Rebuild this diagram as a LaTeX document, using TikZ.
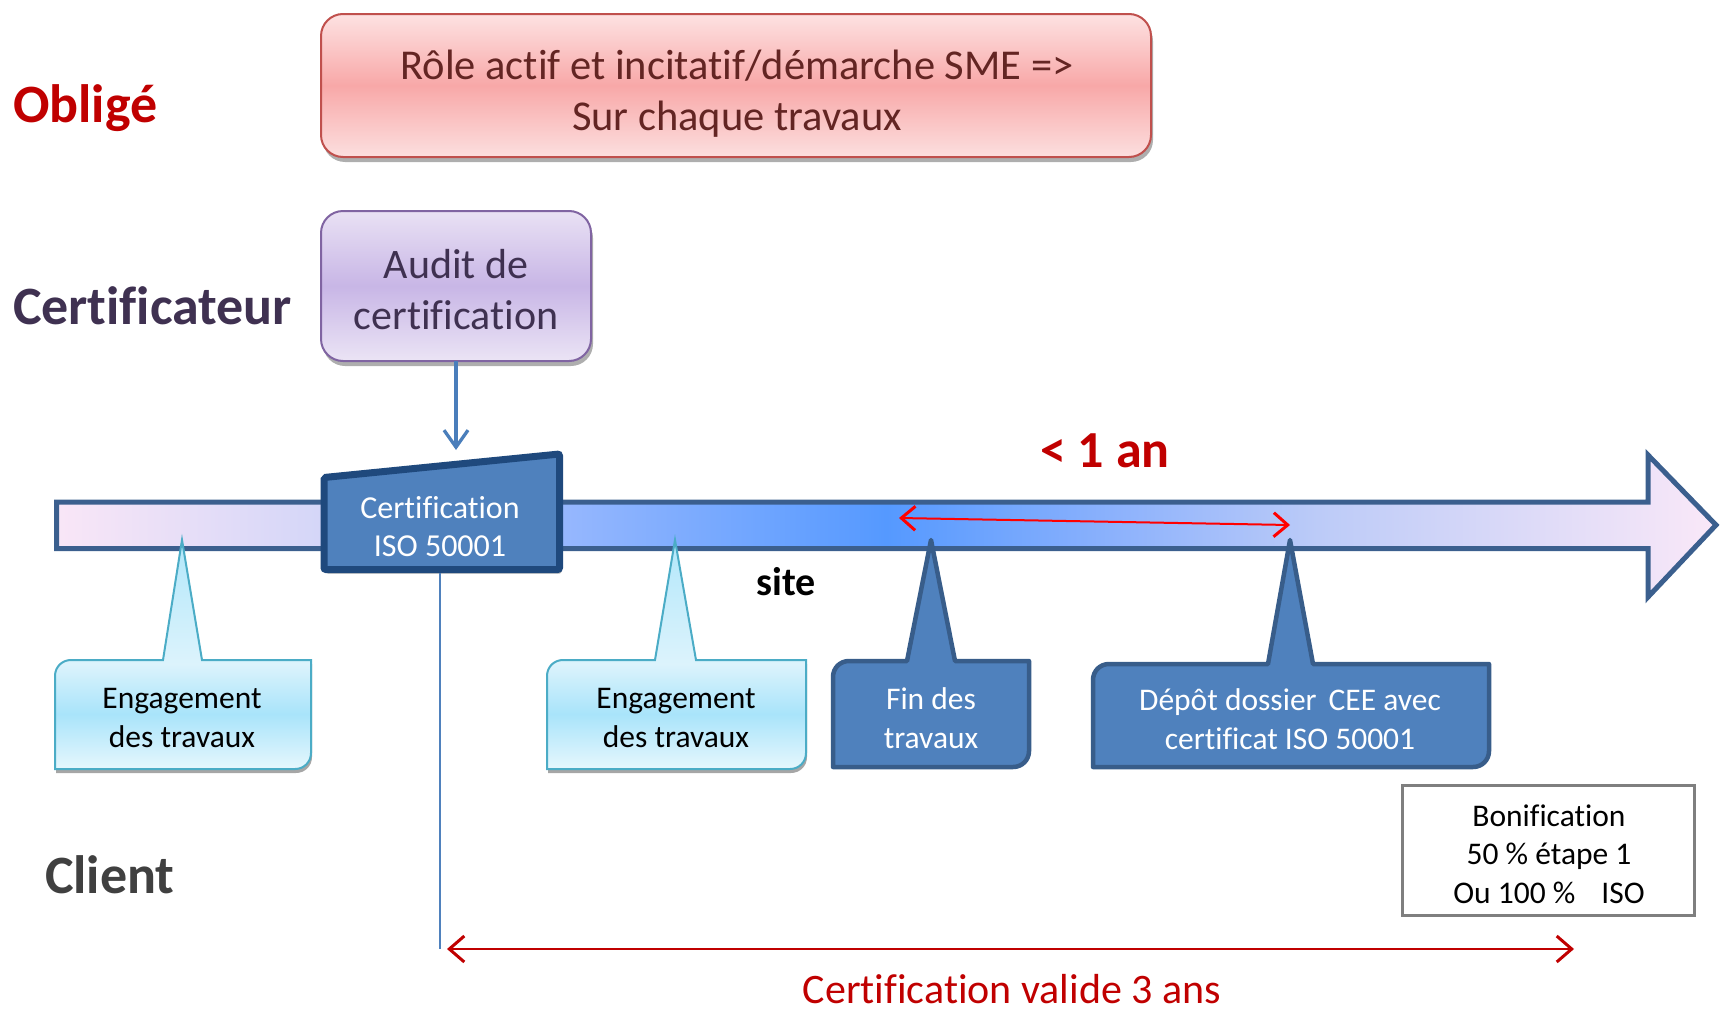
\documentclass[tikz,border=0pt]{standalone}
\usepackage{fontspec}
\setmainfont{Carlito}[Ligatures=NoCommon]
\usetikzlibrary{arrows.meta,shadows}

% ---------- colours ----------
\definecolor{obligred}{HTML}{C00000}
\definecolor{certpurple}{HTML}{3F3151}
\definecolor{clientgray}{HTML}{404040}
\definecolor{roleborder}{HTML}{C0504D}
\definecolor{roletext}{HTML}{632523}
\definecolor{auditborder}{HTML}{8064A2}
\definecolor{linkblue}{HTML}{4A7EBB}
\definecolor{axisborder}{HTML}{3B5F8E}
\definecolor{stepfill}{HTML}{4F81BD}
\definecolor{isoborder}{HTML}{1F497D}
\definecolor{stepborder}{HTML}{385D8A}
\definecolor{engborder}{HTML}{4BACC6}
\definecolor{bonusborder}{HTML}{7F7F7F}
\definecolor{brightred}{HTML}{FF0000}

% gradient stops
\definecolor{rb}{HTML}{FCDFDF}\definecolor{rm}{HTML}{F8A8A8}\definecolor{rt}{HTML}{FDE2E2}
\definecolor{ab}{HTML}{EBE4F5}\definecolor{am}{HTML}{C8B6E6}\definecolor{at}{HTML}{E9E1F4}
\definecolor{ec0}{HTML}{E6F7FD}\definecolor{ec1}{HTML}{A9E4FA}\definecolor{ec2}{HTML}{DCF3FC}\definecolor{ec3}{HTML}{B2E7FA}
\definecolor{ax0}{HTML}{F9E6F7}\definecolor{ax1}{HTML}{D4D6F8}\definecolor{ax2}{HTML}{98B8FE}
\definecolor{ax3}{HTML}{5599FF}\definecolor{ax4}{HTML}{8DB2FC}\definecolor{ax5}{HTML}{BCCBF8}\definecolor{ax6}{HTML}{FAE8F8}

\pgfdeclareverticalshading{roleshade}{100bp}{color(0bp)=(rb); color(25bp)=(rb); color(50bp)=(rm); color(75bp)=(rt); color(100bp)=(rt)}
\pgfdeclareverticalshading{auditshade}{100bp}{color(0bp)=(ab); color(25bp)=(ab); color(50bp)=(am); color(75bp)=(at); color(100bp)=(at)}
\pgfdeclareverticalshading{engshade}{100bp}{color(0bp)=(ec0); color(25bp)=(ec0); color(37bp)=(ec1); color(48bp)=(ec2); color(75bp)=(ec3); color(100bp)=(ec3)}
\pgfdeclarehorizontalshading{axisshade}{100bp}{color(0bp)=(ax0); color(25bp)=(ax0); color(33bp)=(ax1); color(40bp)=(ax2); color(50bp)=(ax3); color(57bp)=(ax4); color(63bp)=(ax5); color(75bp)=(ax6); color(100bp)=(ax6)}

% callout: style, x1, y1, x2, y2, pointer base left, pointer base right, tip x, tip y
\newcommand\timelinecallout[9]{%
  \path[#1] (#2,#3+16) .. controls (#2,#3+7) and (#2+7,#3) .. (#2+16,#3)
    -- (#6,#3) -- (#8,#9) -- (#7,#3) -- (#4,#3) -- (#4,#5-16)
    .. controls (#4,#5-7) and (#4-7,#5) .. (#4-16,#5) -- (#2,#5) -- cycle;}

\begin{document}
\begin{tikzpicture}[x=1pt,y=-1pt,
  every node/.style={inner sep=0pt, outer sep=0pt},
  actor/.style={anchor=west, font=\fontsize{54}{62}\selectfont\bfseries},
  rolebox/.style={draw=roleborder, line width=2pt, rounded corners=22pt, shade, shading=roleshade,
    minimum width=830pt, minimum height=143pt,
    drop shadow={shadow xshift=2pt, shadow yshift=-5pt, fill=black!45, opacity=.7}},
  auditbox/.style={draw=auditborder, line width=2pt, rounded corners=22pt, shade, shading=auditshade,
    minimum width=270pt, minimum height=150pt,
    drop shadow={shadow xshift=2pt, shadow yshift=-5pt, fill=black!45, opacity=.7}},
  lightcallout/.style={draw=engborder, line width=2pt, shade, shading=engshade,
    drop shadow={shadow xshift=1pt, shadow yshift=-4pt, fill=black!50, opacity=.7}},
  darkcallout/.style={draw=stepborder, line width=4.5pt, fill=stepfill, line join=round},
  calloutlabel/.style={align=center, font=\fontsize{31.5}{38.5}\selectfont},
  redspan/.style={draw=obligred, line width=2.5pt,
    {Straight Barb[length=15pt, width=26pt, line width=3pt]}-{Straight Barb[length=15pt, width=26pt, line width=3pt]}},
  yearspan/.style={draw=brightred, line width=2pt,
    {Straight Barb[length=14pt, width=24pt, line width=3pt]}-{Straight Barb[length=14pt, width=24pt, line width=3pt]}},
]
\useasboundingbox (0,0) rectangle (1729,1017);

% ---------- actors ----------
\node[actor, text=obligred] (oblige) at (13,108) {Obligé};
\node[actor, text=certpurple] (certificateur) at (13,306) {Certificateur};
\node[actor, text=clientgray] (client) at (45,875) {Client};

% ---------- upper boxes ----------
\node[rolebox] (role) at (736,85.5) {};
\node[align=center, text=roletext, font=\fontsize{42.5}{51}\selectfont] (roletxt) at (737,94)
  {Rôle actif et incitatif/démarche SME =>\\Sur chaque travaux};
\node[auditbox] (audit) at (456,286) {};
\node[align=center, text=certpurple, font=\fontsize{42}{51}\selectfont] (audittxt) at (456,290)
  {Audit de\\certification};

% ---------- time axis ----------
\path[shade, shading=axisshade, draw=axisborder, line width=5pt, line join=miter]
  (56.5,502) -- (1648,502) -- (1648,455) -- (1716,525) -- (1648,597) -- (1648,548.5)
  -- (56.5,548.5) -- cycle;

% ---------- certification step ----------
\path[draw=isoborder, fill=stepfill, line width=7pt, rounded corners=2pt,
  drop shadow={shadow xshift=2pt, shadow yshift=-4pt, fill=black!45, opacity=.7}]
  (324,477.5) -- (559.5,454) -- (559.5,569.5) -- (324,569.5) -- cycle;
\node[calloutlabel, text=white, font=\fontsize{32}{38}\selectfont] (iso) at (440,527) {Certification\\ISO 50001};
\coordinate (isotop) at (455,450);
\coordinate (isofoot) at (440,573);
\draw[linkblue, line width=3.3pt, -{Straight Barb[length=17pt, width=24pt, line width=3.3pt]}]
  (audit.south) -- (audit.south |- isotop);

% ---------- client callouts ----------
\timelinecallout{lightcallout}{55}{660}{311}{769}{163}{202}{182}{540}
\node[calloutlabel] (eng1) at (182,718) {Engagement\\des travaux};

\timelinecallout{lightcallout}{547}{660}{806}{769}{655}{696}{675}{540}
\node[calloutlabel] (eng2) at (676,718) {Engagement\\des travaux};

\timelinecallout{darkcallout}{833}{661}{1029}{767}{907}{955}{931}{540}
\node[calloutlabel, text=white] (fin) at (931,718) {Fin des\\travaux};

\timelinecallout{darkcallout}{1093}{664}{1489}{767}{1268}{1313}{1290}{540}
\node[calloutlabel, text=white] (depot) at (1290,719) {Dépôt dossier\hspace{12pt}CEE avec\\certificat ISO 50001};

% ---------- durations ----------
\node[font=\fontsize{52}{60}\selectfont\bfseries, text=obligred] (year) at (1105,451) {< 1 an};
\coordinate (yearL) at (899,518);
\coordinate (yearR) at (1290,525);
\draw[yearspan] (yearL) -- (yearR);

\node[font=\fontsize{40}{48}\selectfont\bfseries] (site) at (786,582) {site};

\node[draw=bonusborder, line width=3pt, minimum width=292pt, minimum height=130pt] (bonus) at (1548.5,850.5) {};
\node[calloutlabel] (bonustxt) at (1549,854) {Bonification\\50 \% étape 1\\Ou 100 \%\hspace{26pt}ISO};

\coordinate (validL) at (447,949);
\coordinate (validR) at (1574,949);
\draw[stepfill, line width=1.5pt] (isofoot) -- (isofoot |- validL);
\draw[redspan] (validL) -- (validR);
\node[font=\fontsize{42}{50}\selectfont, text=obligred] (valid) at (1012,989) {Certification valide 3 ans};

\end{tikzpicture}
\end{document}
